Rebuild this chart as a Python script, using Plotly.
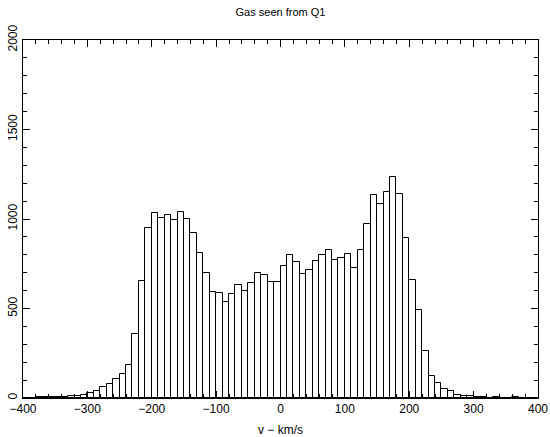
import plotly.graph_objects as go

bin_left = list(range(-400, 400, 10))
counts = [
    1, 2, 3, 5, 8, 6, 5, 12, 13, 17,
    28, 40, 62, 77, 108, 132, 184, 357, 654, 951,
    1032, 1007, 1024, 994, 1037, 1002, 920, 808, 697, 592,
    589, 535, 583, 630, 600, 641, 697, 685, 650, 648,
    736, 797, 758, 691, 715, 765, 801, 829, 769, 784,
    804, 724, 829, 974, 1136, 1086, 1153, 1235, 1140, 894,
    657, 490, 264, 121, 82, 48, 37, 14, 12, 12,
    4, 3, 2, 3, 2, 2, 3, 2, 1, 2,
]
bin_width = 10
centers = [b + bin_width / 2 for b in bin_left]

x_ticks = [-400, -300, -200, -100, 0, 100, 200, 300, 400]
y_ticks = [0, 500, 1000, 1500, 2000]

fig = go.Figure(go.Bar(
    x=centers, y=counts, width=bin_width,
    marker=dict(color="white", line=dict(color="black", width=1)),
    hoverinfo="x+y",
))

font = dict(family="Liberation Sans, Arial, sans-serif", size=11, color="black")

fig.update_layout(
    width=550, height=437,
    margin=dict(l=23, r=12, t=40, b=39),
    paper_bgcolor="white", plot_bgcolor="white",
    bargap=0, showlegend=False,
    font=font,
    title=dict(text="Gas seen from Q1", x=0.51, xanchor="center", y=0.972, yanchor="middle",
               font=dict(size=11)),
)
fig.update_xaxes(
    range=[-400, 400], tickmode="array", tickvals=x_ticks,
    ticks="inside", ticklen=7, tickwidth=1, tickcolor="black",
    minor=dict(dtick=20, ticklen=4, ticks="inside", tickcolor="black", showgrid=False),
    showline=True, linecolor="black", linewidth=1, mirror="ticks",
    showgrid=False, zeroline=False, automargin=False,
    title=dict(text="v − km/s", standoff=10, font=dict(size=12)),
    tickfont=dict(size=12),
)
fig.update_yaxes(
    range=[0, 2000], tickmode="array", tickvals=y_ticks,
    ticks="inside", ticklen=7, tickwidth=1, tickcolor="black",
    minor=dict(dtick=100, ticklen=4, ticks="inside", tickcolor="black", showgrid=False),
    showline=True, linecolor="black", linewidth=1, mirror="ticks",
    showgrid=False, zeroline=False, tickangle=-90, automargin=False,
    tickfont=dict(size=12),
)

fig.write_html("out.html",
               config={"displayModeBar": False},
               post_script="document.body.style.margin='0px';document.body.style.overflow='hidden';")
